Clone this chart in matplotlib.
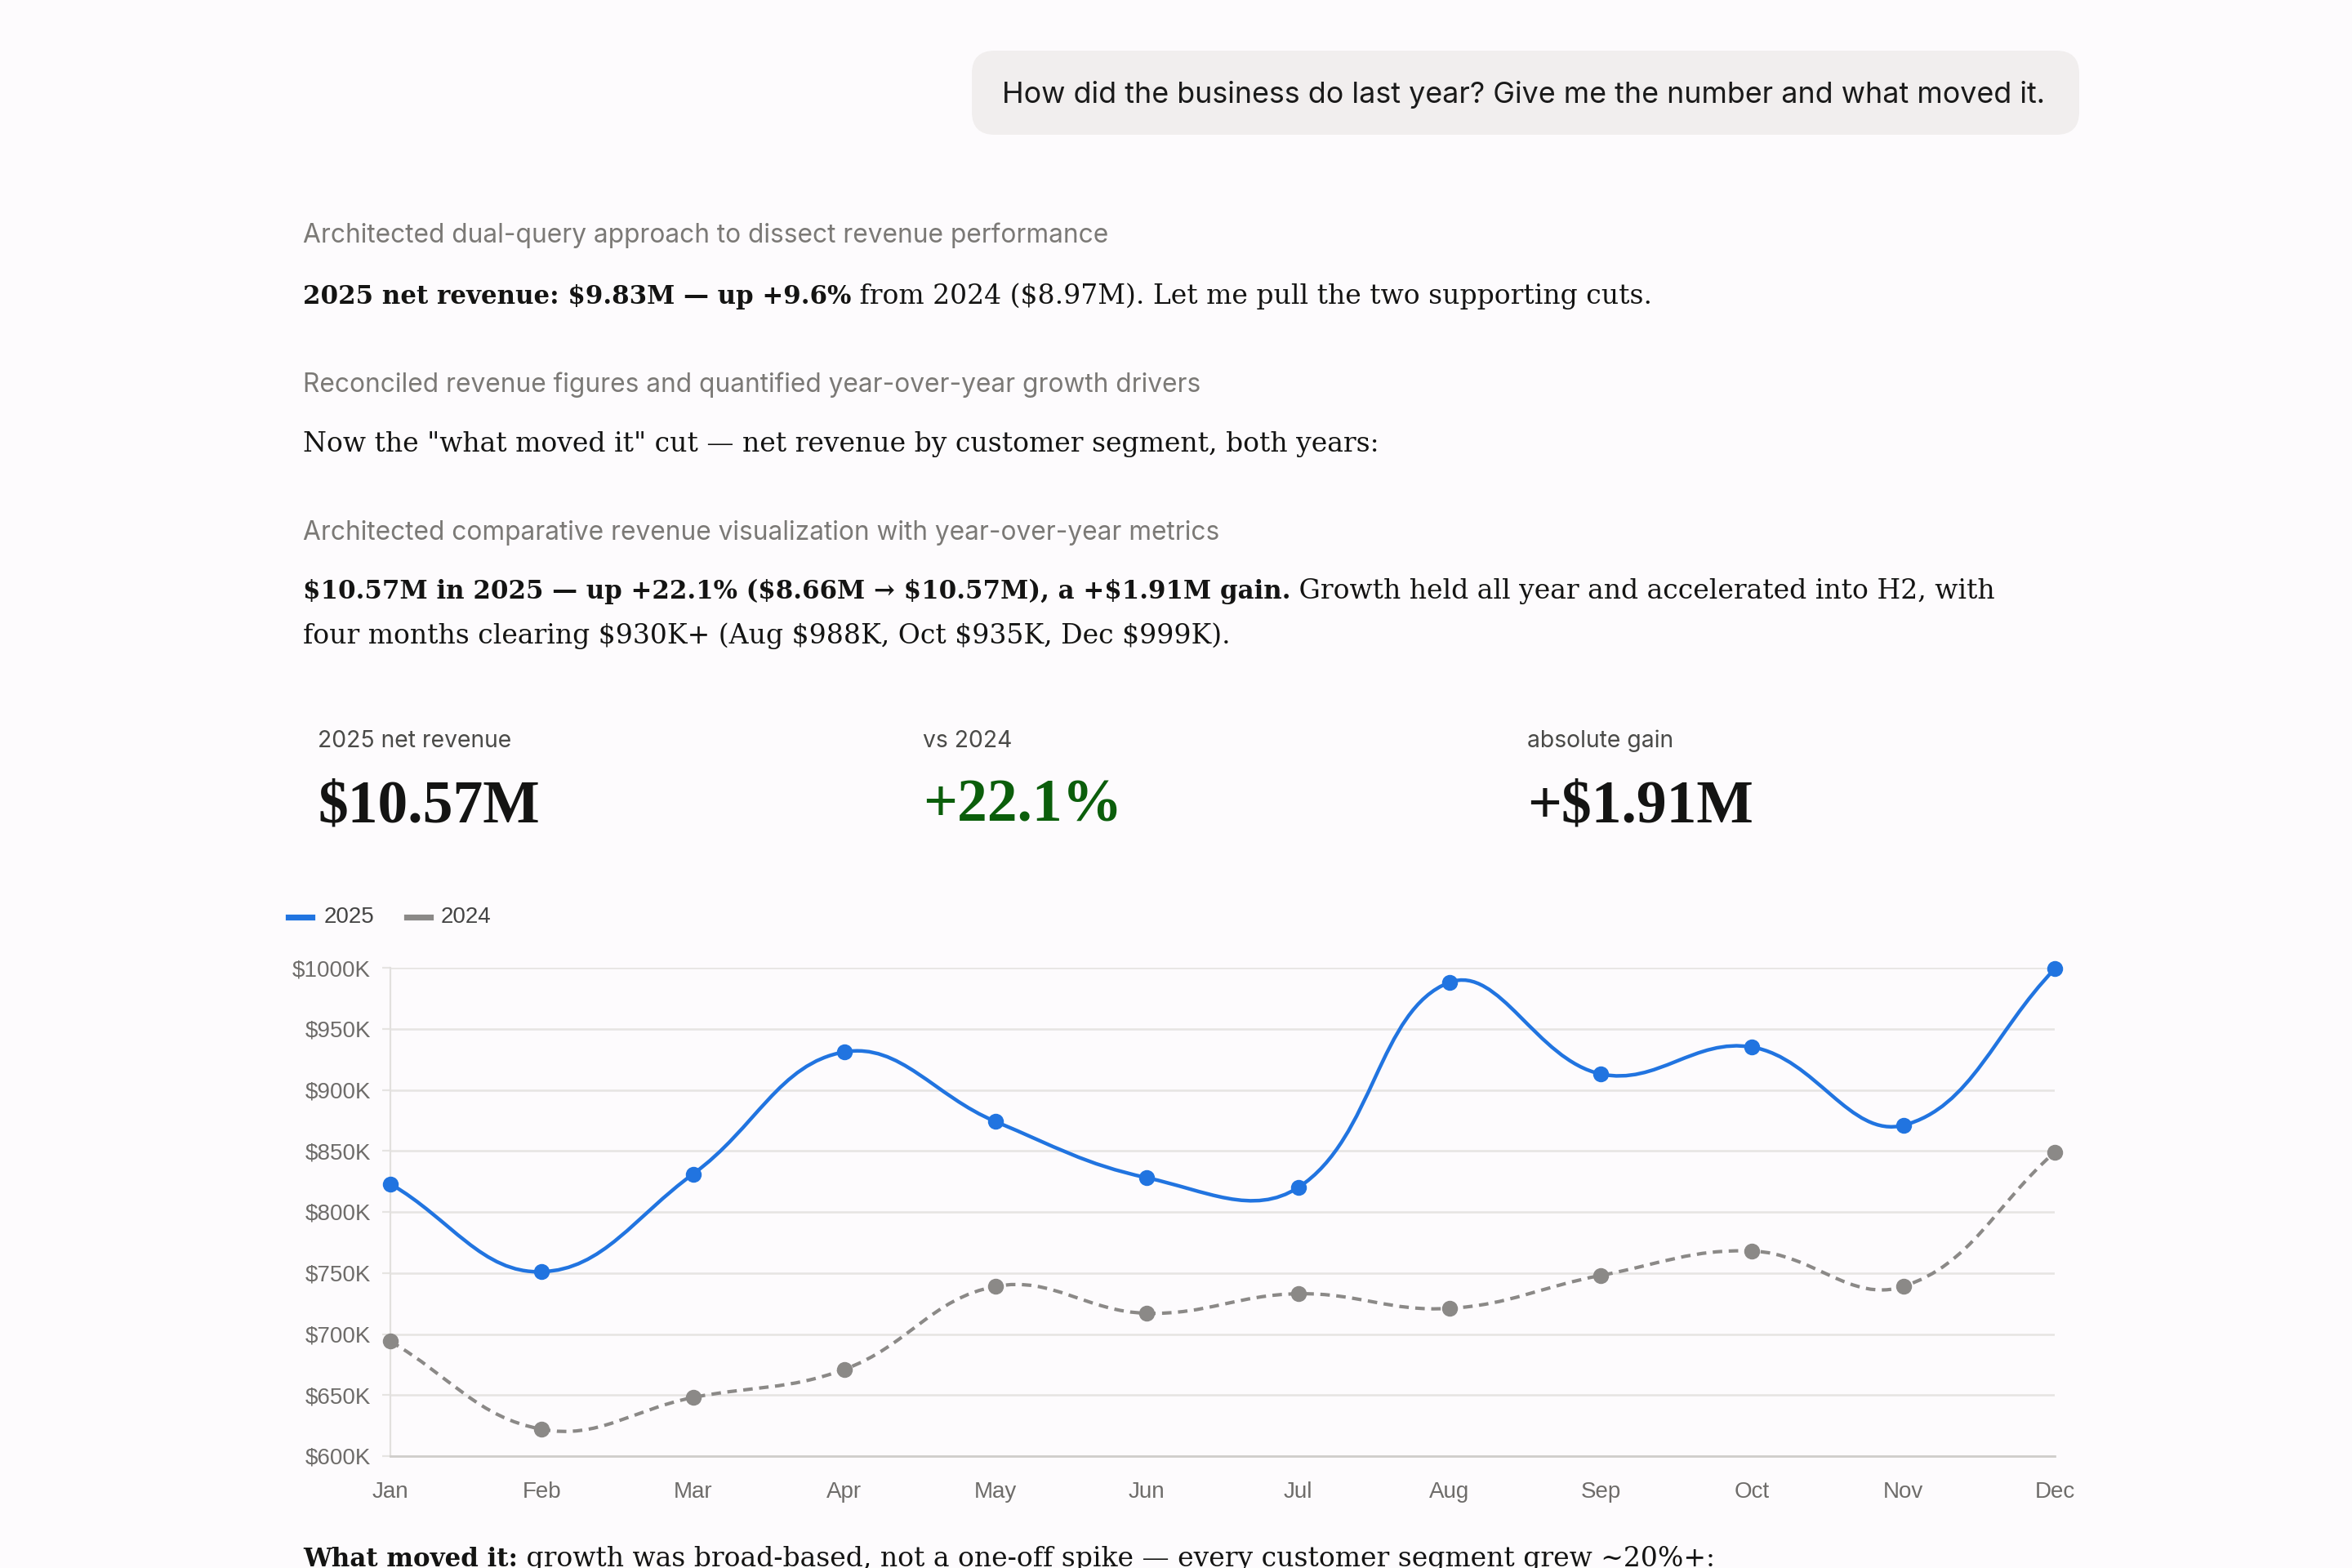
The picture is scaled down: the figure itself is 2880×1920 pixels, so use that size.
import numpy as np
import matplotlib
matplotlib.use("Agg")
import matplotlib.pyplot as plt
from matplotlib.path import Path
from matplotlib.patches import PathPatch, FancyBboxPatch
from matplotlib.lines import Line2D

plt.rcParams['text.parse_math'] = False

# ---- data (values in $K) ----
months = ['Jan', 'Feb', 'Mar', 'Apr', 'May', 'Jun', 'Jul', 'Aug', 'Sep', 'Oct', 'Nov', 'Dec']
rev_2025 = [823, 751, 831, 931, 874, 828, 820, 988, 913, 935, 871, 999]
rev_2024 = [694, 622, 648, 671, 739, 717, 733, 721, 748, 768, 739, 849]
y_ticks = [600, 650, 700, 750, 800, 850, 900, 950, 1000]
kpi_labels = ['2025 net revenue', 'vs 2024', 'absolute gain']
kpi_values = ['$10.57M', '+22.1%', '+$1.91M']

W, H, DPI = 2880, 1920, 200
BG = '#fdfbfd'
BLUE = '#2174e0'
GREY = '#8b8987'
INK = '#141413'
SUB = '#7b7976'

BODY = ['DejaVu Serif']
SERIF = ['Liberation Serif', 'DejaVu Serif']
SANS = ['Inter', 'DejaVu Sans']
CHART = ['Liberation Sans', 'DejaVu Sans']
BODY_SIZE = 11.9
BOLD_SIZE = 11.1

fig = plt.figure(figsize=(W / DPI, H / DPI), dpi=DPI, facecolor=BG)
renderer = fig.canvas.get_renderer()


def fx(px):
    return px / W


def fy(py):
    return 1 - py / H


def text_w(s, **kw):
    # width incl. leading/trailing spaces, measured between two bars
    a = fig.text(0, 0, '|' + s + '|', **kw)
    b = fig.text(0, 0, '||', **kw)
    w = a.get_window_extent(renderer).width - b.get_window_extent(renderer).width
    a.remove()
    b.remove()
    return w


def runs(x, base, parts, color=INK, family=BODY):
    for s, weight in parts:
        size = BOLD_SIZE if weight == 'bold' else BODY_SIZE
        kw = dict(fontsize=size, family=family, weight=weight, color=color)
        fig.text(fx(x), fy(base), s, va='baseline', ha='left', **kw)
        x += text_w(s, **kw)


# ---- user bubble ----
bubble = FancyBboxPatch((1190 / DPI, (H - 165) / DPI), (2546 - 1190) / DPI, (165 - 62) / DPI,
                        boxstyle='round,pad=0,rounding_size=0.14',
                        transform=fig.dpi_scale_trans, facecolor='#f1eeee', edgecolor='none')
fig.add_artist(bubble)
fig.text(fx(1227), fy(126), 'How did the business do last year? Give me the number and what moved it.',
         fontsize=12.9, family=SANS, color='#1a1a1a', va='baseline')

# ---- assistant text ----
fig.text(fx(371), fy(297), 'Architected dual-query approach to dissect revenue performance',
         fontsize=11.4, family=SANS, color=SUB, va='baseline')
runs(371, 372, [('2025 net revenue: $9.83M — up +9.6%', 'bold'),
                (' from 2024 ($8.97M). Let me pull the two supporting cuts.', 'normal')])

fig.text(fx(371), fy(480), 'Reconciled revenue figures and quantified year-over-year growth drivers',
         fontsize=11.4, family=SANS, color=SUB, va='baseline')
runs(371, 553, [('Now the "what moved it" cut — net revenue by customer segment, both years:', 'normal')])

fig.text(fx(371), fy(661), 'Architected comparative revenue visualization with year-over-year metrics',
         fontsize=11.4, family=SANS, color=SUB, va='baseline')
runs(371, 733, [('$10.57M in 2025 — up +22.1% ($8.66M → $10.57M), a +$1.91M gain.', 'bold'),
                (' Growth held all year and accelerated into H2, with', 'normal')])
runs(371, 788, [('four months clearing $930K+ (Aug $988K, Oct $935K, Dec $999K).', 'normal')])

# ---- KPI row ----
kpi_x = [389, 1130, 1870]
kpi_colors = [INK, '#0b5e0b', INK]
for x, lab, val, c in zip(kpi_x, kpi_labels, kpi_values, kpi_colors):
    fig.text(fx(x), fy(915), lab, fontsize=10.2, family=SANS, color='#4a4a48', va='baseline')
    fig.text(fx(x), fy(1006), val, fontsize=26.5, family=SERIF, weight='bold', color=c, va='baseline')

# ---- legend ----
fig.add_artist(Line2D([fx(353), fx(382)], [fy(1123), fy(1123)], color=BLUE, lw=2.6))
fig.text(fx(397), fy(1123), '2025', fontsize=10, family=CHART, color='#444', va='center')
fig.add_artist(Line2D([fx(498), fx(527)], [fy(1123), fy(1123)], color=GREY, lw=2.6))
fig.text(fx(540), fy(1123), '2024', fontsize=10, family=CHART, color='#444', va='center')

# ---- chart ----
ax = fig.add_axes([fx(478), fy(1783), (2516 - 478) / W, (1783 - 1185) / H])
ax.set_facecolor(BG)
ax.set_xlim(0, len(months) - 1)
ax.set_ylim(y_ticks[0], y_ticks[-1])
ax.set_yticks(y_ticks)
ax.set_yticklabels([f'${v}K' for v in y_ticks])
ax.set_xticks(range(len(months)))
ax.set_xticklabels(months)
for s in ['top', 'right']:
    ax.spines[s].set_visible(False)
ax.spines['left'].set_color('#e2e0de')
ax.spines['left'].set_linewidth(0.8)
ax.spines['bottom'].set_color('#cfcdcb')
ax.spines['bottom'].set_linewidth(1.0)
ax.yaxis.grid(True, color='#e6e4e2', lw=0.9)
ax.set_axisbelow(True)
ax.tick_params(axis='y', length=3.6, color='#e6e4e2', pad=5, labelsize=10, labelcolor='#6e6c6a')
ax.tick_params(axis='x', length=0, pad=11, labelsize=10, labelcolor='#6e6c6a')
for lab in ax.get_xticklabels() + ax.get_yticklabels():
    lab.set_family(CHART)


def chart_spline(ys, t=0.4):
    # Chart.js style bezier (tension 0.4), control points from pixel distances
    pts = ax.transData.transform(np.column_stack([np.arange(len(ys)), ys]))
    n = len(pts)
    cp_prev = np.zeros_like(pts)
    cp_next = np.zeros_like(pts)
    for i in range(n):
        p0, p1, p2 = pts[max(i - 1, 0)], pts[i], pts[min(i + 1, n - 1)]
        d01 = np.hypot(*(p1 - p0))
        d12 = np.hypot(*(p2 - p1))
        s01 = d01 / (d01 + d12)
        s12 = d12 / (d01 + d12)
        cp_prev[i] = p1 - t * s01 * (p2 - p0)
        cp_next[i] = p1 + t * s12 * (p2 - p0)
    verts = [pts[0]]
    codes = [Path.MOVETO]
    for i in range(n - 1):
        verts += [cp_next[i], cp_prev[i + 1], pts[i + 1]]
        codes += [Path.CURVE4] * 3
    return Path(ax.transData.inverted().transform(np.array(verts)), codes)


ax.add_patch(PathPatch(chart_spline(rev_2024), fill=False, edgecolor=GREY, lw=1.5,
                       linestyle=(0, (2.8, 1.9)), clip_on=False))
ax.plot(range(len(months)), rev_2024, 'o', color=GREY, ms=6, clip_on=False, zorder=3)
ax.add_patch(PathPatch(chart_spline(rev_2025), fill=False, edgecolor=BLUE, lw=1.6,
                       clip_on=False, zorder=4))
ax.plot(range(len(months)), rev_2025, 'o', color=BLUE, ms=6, clip_on=False, zorder=5)

# ---- trailing paragraph (cut by the bottom edge, as in the screenshot) ----
runs(371, 1918, [('What moved it:', 'bold'),
                 (' growth was broad-based, not a one-off spike — every customer segment grew ~20%+:', 'normal')])

fig.savefig('out.png', dpi=DPI, facecolor=BG)
